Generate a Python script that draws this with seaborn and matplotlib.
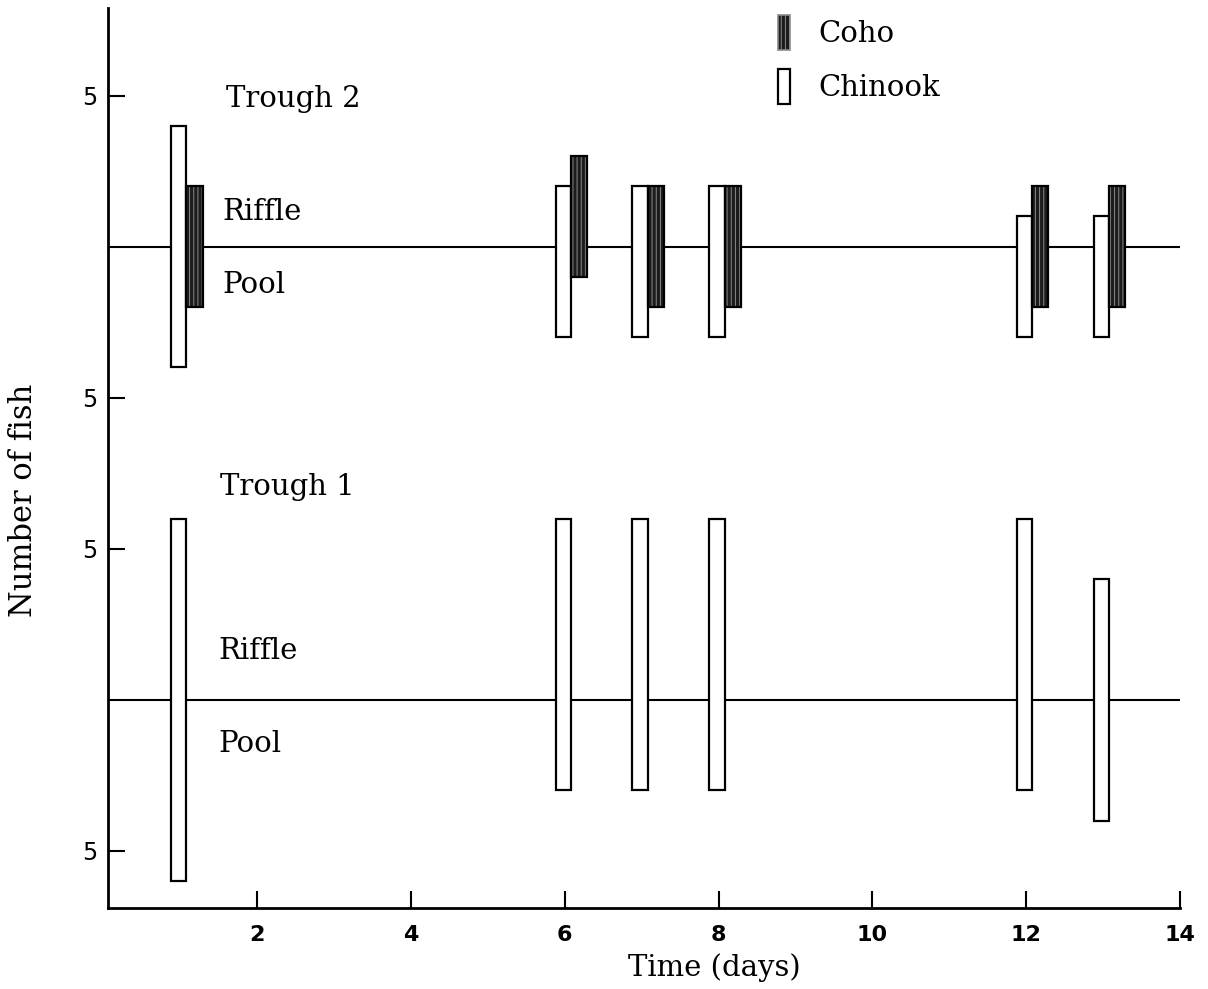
import matplotlib
matplotlib.use("Agg")
import matplotlib.pyplot as plt
import seaborn as sns
import pandas as pd
from matplotlib.patches import Patch

# ---- data ----
days = [1, 6, 7, 8, 12, 13]
t2_chinook_riffle = [4, 2, 2, 2, 1, 1]
t2_chinook_pool = [4, 3, 3, 3, 3, 3]
t2_coho_riffle = [2, 3, 2, 2, 2, 2]
t2_coho_pool = [2, 1, 2, 2, 2, 2]
t1_chinook_riffle = [6, 6, 6, 6, 6, 4]
t1_chinook_pool = [6, 3, 3, 3, 3, 4]
x_ticks = [2, 4, 6, 8, 10, 12, 14]
y_ticks = [-5, 5, 10, 20]
y_tick_labels = ["5", "5", "5", "5"]
baselines = {"Trough 1": 0, "Trough 2": 15}

rows = []
for i, d in enumerate(days):
    rows.append(dict(trough="Trough 2", species="Chinook", day=d, riffle=t2_chinook_riffle[i], pool=t2_chinook_pool[i]))
    rows.append(dict(trough="Trough 2", species="Coho", day=d, riffle=t2_coho_riffle[i], pool=t2_coho_pool[i]))
    rows.append(dict(trough="Trough 1", species="Chinook", day=d, riffle=t1_chinook_riffle[i], pool=t1_chinook_pool[i]))
df = pd.DataFrame(rows)

sns.set_style("ticks")
plt.rcParams["font.family"] = ["DejaVu Serif"]
plt.rcParams["hatch.linewidth"] = 0.7
for k in ["text.color", "axes.labelcolor", "xtick.color", "ytick.color", "axes.edgecolor"]:
    plt.rcParams[k] = "black"

fig = plt.figure(figsize=(12.08, 9.89), dpi=100)
ax = fig.add_axes([108 / 1208, 0.0819, (1180 - 108) / 1208, 0.992 - 0.0819])

offsets = {"Chinook": (-0.12, 0.20), "Coho": (0.08, 0.21)}
for _, r in df.iterrows():
    base = baselines[r["trough"]]
    x0, w = offsets[r["species"]]
    bottom = base - r["pool"]
    height = r["riffle"] + r["pool"]
    if r["species"] == "Coho":
        ax.bar(r["day"] + x0, height, width=w, bottom=bottom, align="edge",
               facecolor="#1c1c1c", edgecolor="#8a8a8a", hatch="||||", linewidth=0, zorder=3)
        ax.bar(r["day"] + x0, height, width=w, bottom=bottom, align="edge",
               fill=False, edgecolor="black", linewidth=1.6, zorder=4)
    else:
        ax.bar(r["day"] + x0, height, width=w, bottom=bottom, align="edge",
               facecolor="white", edgecolor="black", linewidth=1.6, zorder=3)

for b in baselines.values():
    ax.axhline(b, color="black", linewidth=1.5, zorder=2)

ax.set_xlim(0.06, 14)
ax.set_ylim(-6.89, 22.9)
ax.set_xticks(x_ticks)
ax.set_xticklabels([str(t) for t in x_ticks], fontfamily="DejaVu Sans", fontweight="bold", fontsize=16)
ax.set_yticks(y_ticks)
ax.set_yticklabels(y_tick_labels, fontfamily="DejaVu Sans", fontsize=17)
ax.tick_params(axis="x", direction="in", length=12, width=1.5, pad=12)
ax.tick_params(axis="y", direction="in", length=12, width=1.5, pad=8)
for s in ["top", "right"]:
    ax.spines[s].set_visible(False)
for s in ["left", "bottom"]:
    ax.spines[s].set_linewidth(2)
    ax.spines[s].set_color("black")

ax.set_xlabel("Time (days)", fontsize=21)
ax.xaxis.set_label_coords(0.566, -0.050)
ax.set_ylabel("Number of fish", fontsize=22)
ax.yaxis.set_label_coords(-0.064, 0.453)

txt = dict(fontsize=21, va="center", ha="left")
ax.text(1.59, 19.87, "Trough 2", **txt)
ax.text(1.55, 16.16, "Riffle", **txt)
ax.text(1.55, 13.74, "Pool", **txt)
ax.text(1.52, 7.05, "Trough 1", **txt)
ax.text(1.50, 1.62, "Riffle", **txt)
ax.text(1.50, -1.46, "Pool", **txt)

handles = [Patch(facecolor="#1c1c1c", edgecolor="#8a8a8a", hatch="||||", linewidth=1.2, label="Coho"),
           Patch(facecolor="white", edgecolor="black", linewidth=1.6, label="Chinook")]
ax.legend(handles=handles, loc="upper left", bbox_to_anchor=(778 / 1208, 1 - 15 / 989),
          bbox_transform=fig.transFigure, frameon=False, fontsize=21,
          handlelength=0.42, handleheight=1.45, handletextpad=0.95, labelspacing=0.68,
          borderpad=0, borderaxespad=0)

fig.savefig("out.png", dpi=100)
